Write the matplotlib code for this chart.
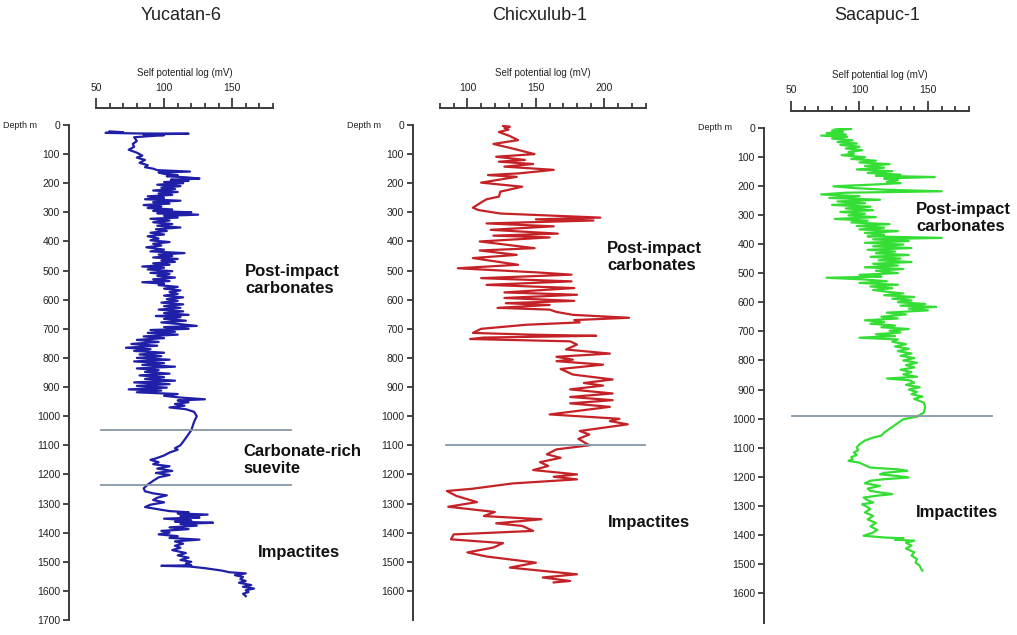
import matplotlib.pyplot as plt
from matplotlib.ticker import MultipleLocator, FixedLocator

# self potential logs, (depth m, mV)
yucatan = [(22, 60), (25, 70), (27, 57), (29, 80), (30, 118), (32, 85), (35, 100), (38, 90), (42, 78),
           (55, 80), (65, 77), (75, 78), (85, 74), (95, 80), (105, 84), (112, 80), (120, 86), (130, 82),
           (138, 88), (145, 86), (150, 92), (155, 95), (160, 119), (163, 96), (168, 100), (172, 110),
           (176, 102), (180, 117), (184, 126), (188, 105), (192, 118), (196, 100), (200, 114), (205, 95),
           (210, 112), (215, 98), (220, 108), (225, 92), (230, 110), (235, 96), (240, 106), (245, 88),
           (250, 100), (255, 86), (260, 112), (265, 92), (270, 104), (275, 85), (280, 98), (285, 88),
           (290, 106), (295, 92), (300, 120), (303, 95), (308, 125), (312, 100), (318, 110), (322, 90),
           (328, 104), (334, 92), (340, 106), (346, 95), (352, 112), (358, 94), (364, 102), (370, 90),
           (376, 100), (382, 88), (390, 96), (396, 90), (402, 104), (408, 92), (414, 98), (420, 87),
           (428, 100), (434, 90), (440, 115), (445, 96), (450, 106), (455, 92), (460, 110), (465, 98),
           (470, 108), (475, 92), (480, 104), (486, 84), (490, 100), (496, 88), (502, 106), (508, 90),
           (512, 104), (518, 95), (524, 108), (530, 92), (536, 104), (540, 84), (545, 100), (550, 96),
           (556, 110), (562, 100), (568, 112), (574, 104), (580, 110), (586, 100), (592, 114), (598, 102),
           (604, 110), (610, 98), (616, 114), (622, 100), (628, 112), (634, 96), (640, 114), (646, 100),
           (652, 118), (656, 94), (660, 112), (666, 100), (672, 116), (678, 98), (684, 112), (690, 124),
           (694, 100), (700, 118), (704, 90), (710, 108), (714, 88), (720, 110), (726, 85), (732, 100),
           (738, 80), (745, 96), (752, 76), (758, 95), (765, 72), (770, 90), (776, 78), (782, 100),
           (788, 82), (794, 98), (800, 80), (806, 104), (812, 78), (818, 100), (824, 84), (830, 108),
           (836, 80), (842, 96), (848, 86), (854, 104), (860, 82), (866, 100), (872, 86), (878, 108),
           (884, 78), (890, 104), (896, 80), (902, 102), (908, 74), (912, 98), (918, 80), (924, 110),
           (930, 100), (936, 112), (942, 130), (946, 110), (952, 118), (958, 108), (964, 115), (970, 104),
           (976, 116), (985, 122), (1000, 124), (1020, 122), (1048, 120), (1075, 116), (1100, 112),
           (1110, 108), (1115, 110), (1125, 104), (1135, 100), (1145, 94), (1150, 90), (1158, 96),
           (1165, 92), (1172, 104), (1180, 95), (1188, 106), (1195, 94), (1202, 104), (1210, 96),
           (1222, 92), (1235, 88), (1248, 85), (1258, 86), (1265, 92), (1272, 102), (1280, 95), (1288, 92),
           (1296, 100), (1304, 90), (1312, 86), (1320, 96), (1326, 104), (1330, 118), (1334, 110),
           (1338, 132), (1343, 112), (1348, 126), (1352, 100), (1358, 120), (1362, 108), (1366, 136),
           (1370, 112), (1376, 124), (1382, 104), (1388, 118), (1394, 98), (1400, 104), (1406, 96),
           (1412, 110), (1418, 104), (1424, 126), (1430, 108), (1438, 114), (1445, 108), (1452, 112),
           (1460, 106), (1470, 116), (1478, 110), (1486, 118), (1494, 112), (1500, 120), (1506, 116),
           (1512, 120), (1514, 98), (1516, 118), (1522, 130), (1530, 142), (1536, 148), (1540, 160),
           (1546, 152), (1552, 158), (1560, 156), (1566, 160), (1572, 155), (1580, 164), (1586, 158),
           (1592, 166), (1598, 160), (1604, 162), (1610, 158), (1618, 160)]

chicxulub = [(3, 126), (6, 131), (10, 127), (16, 130), (24, 123), (38, 131), (52, 137), (65, 119), (82, 134),
             (100, 149), (109, 121), (120, 142), (126, 123), (134, 148), (143, 127), (154, 163), (166, 138),
             (172, 115), (178, 136), (198, 110), (212, 140), (229, 124), (246, 123), (255, 114), (269, 109),
             (284, 104), (292, 108), (304, 124), (318, 197), (324, 150), (328, 192), (338, 114), (348, 163),
             (360, 117), (373, 166), (380, 119), (386, 160), (400, 109), (423, 149), (431, 109), (446, 136),
             (457, 104), (480, 137), (492, 93), (506, 150), (514, 176), (526, 110), (537, 176), (549, 114),
             (560, 178), (575, 127), (583, 180), (594, 127), (604, 178), (612, 128), (618, 160), (628, 122),
             (634, 160), (642, 165), (652, 177), (662, 218), (670, 178), (678, 182), (686, 143), (700, 110),
             (714, 104), (720, 146), (724, 194), (730, 112), (735, 102), (743, 175), (754, 180), (771, 172),
             (785, 204), (796, 165), (806, 177), (811, 165), (823, 199), (838, 168), (857, 177), (874, 206),
             (886, 185), (895, 199), (908, 175), (922, 206), (934, 175), (945, 206), (956, 175), (968, 204),
             (994, 160), (1009, 211), (1017, 204), (1028, 217), (1051, 182), (1063, 189), (1078, 181),
             (1100, 189), (1114, 165), (1131, 158), (1143, 168), (1158, 153), (1171, 159), (1185, 148),
             (1200, 180), (1208, 163), (1217, 180), (1231, 133), (1249, 104), (1257, 85), (1274, 92),
             (1295, 107), (1311, 86), (1329, 120), (1343, 112), (1354, 154), (1368, 121), (1377, 140),
             (1394, 148), (1406, 90), (1423, 88), (1436, 126), (1451, 119), (1468, 100), (1482, 114),
             (1503, 150), (1520, 131), (1543, 180), (1554, 155), (1566, 175), (1571, 163)]

sacapuc = [(0, 82), (5, 94), (10, 80), (15, 88), (19, 76), (24, 90), (28, 72), (32, 91), (38, 80), (44, 95),
           (50, 84), (55, 98), (60, 86), (66, 100), (72, 90), (78, 102), (84, 92), (90, 96), (95, 87),
           (102, 104), (108, 94), (114, 112), (120, 100), (126, 122), (132, 104), (138, 118), (144, 98),
           (150, 124), (156, 106), (162, 130), (166, 112), (170, 155), (175, 118), (180, 128), (186, 120),
           (191, 130), (196, 110), (202, 81), (208, 96), (214, 120), (219, 160), (224, 90), (230, 72),
           (236, 100), (242, 78), (248, 115), (254, 84), (260, 104), (266, 80), (272, 108), (278, 90),
           (284, 110), (290, 86), (296, 104), (302, 92), (308, 112), (314, 82), (320, 106), (326, 94),
           (332, 122), (338, 98), (344, 118), (350, 100), (356, 128), (362, 104), (368, 118), (374, 106),
           (379, 160), (384, 110), (390, 136), (396, 104), (402, 132), (408, 110), (414, 138), (420, 106),
           (426, 126), (432, 112), (438, 136), (444, 108), (450, 130), (456, 114), (462, 138), (468, 110),
           (474, 128), (480, 104), (486, 132), (492, 112), (500, 128), (506, 100), (512, 116), (516, 76),
           (522, 104), (528, 120), (534, 100), (540, 128), (546, 108), (552, 124), (558, 110), (564, 120),
           (570, 132), (576, 118), (582, 140), (588, 124), (594, 138), (600, 128), (606, 148), (612, 130),
           (616, 156), (622, 136), (628, 150), (636, 120), (642, 134), (650, 116), (656, 128), (662, 104),
           (668, 118), (674, 108), (680, 126), (686, 116), (692, 136), (698, 122), (704, 130), (710, 112),
           (716, 126), (722, 100), (728, 128), (736, 124), (744, 134), (752, 126), (760, 136), (768, 128),
           (776, 138), (784, 130), (792, 140), (800, 132), (808, 142), (816, 134), (824, 140), (832, 130),
           (840, 138), (848, 132), (856, 142), (862, 120), (868, 136), (876, 140), (884, 134), (892, 144),
           (900, 136), (908, 142), (916, 138), (924, 146), (932, 140), (945, 147), (960, 148), (979, 147),
           (993, 142), (1002, 132), (1015, 128), (1025, 125), (1035, 122), (1048, 118), (1058, 116),
           (1065, 110), (1075, 104), (1088, 100), (1099, 98), (1108, 99), (1116, 96), (1125, 98), (1132, 94),
           (1139, 95), (1145, 92), (1151, 100), (1160, 104), (1168, 108), (1174, 128), (1179, 135),
           (1186, 118), (1191, 115), (1197, 128), (1202, 136), (1208, 118), (1213, 108), (1222, 104),
           (1231, 115), (1240, 106), (1248, 108), (1254, 116), (1259, 124), (1265, 112), (1271, 103),
           (1280, 106), (1288, 110), (1294, 102), (1299, 104), (1310, 108), (1322, 104), (1334, 110),
           (1346, 106), (1358, 112), (1370, 108), (1382, 113), (1391, 110), (1402, 103), (1408, 118),
           (1411, 132), (1416, 126), (1419, 140), (1426, 134), (1436, 138), (1446, 134), (1459, 140),
           (1470, 138), (1482, 142), (1494, 141), (1505, 144), (1516, 145), (1522, 146)]

wells = ['Yucatan-6', 'Chicxulub-1', 'Sacapuc-1']
x_ranges = [(50, 180), (80, 230), (50, 180)]
x_major = [[50, 100, 150], [100, 150, 200], [50, 100, 150]]
depth_ticks = [list(range(0, 1800, 100)), list(range(0, 1700, 100)), list(range(0, 1700, 100))]
boundaries = [[1048, 1238], [1100], [990]]
unit_labels = [[('Post-impact\ncarbonates', 245, 280), ('Carbonate-rich\nsuevite', 243, 460),
                ('Impactites', 258, 553)],
               [('Post-impact\ncarbonates', 607, 257), ('Impactites', 608, 522)],
               [('Post-impact\ncarbonates', 916, 218), ('Impactites', 916, 512)]]

W, H = 1017, 635
plt.rcParams['font.family'] = ['Liberation Sans', 'DejaVu Sans']

# pixel boxes of the plotting areas: left, right, top (0 m), bottom (1700 m)
boxes = [(96, 273, 125, 620), (440, 645.5, 125, 620), (791, 969, 127.5, 622.5)]
line_ext = [(53.7, 193), (84.4, 229.6), (50.7, 197)]
colors = ['#1f1fa8', '#c42226', '#35de35']
logs = [yucatan, chicxulub, sacapuc]
axis_col = '#3a3a3a'

fig = plt.figure(figsize=(W / 100, H / 100), dpi=100)

for i in range(3):
    l, r, t, b = boxes[i]
    ax = fig.add_axes([l / W, 1 - b / H, (r - l) / W, (b - t) / H])
    depth, mv = zip(*logs[i])
    ax.plot(mv, depth, color=colors[i], lw=1.6)
    x0, x1 = line_ext[i]
    for d in boundaries[i]:
        ax.plot([x0, x1], [d, d], color='#8797a6', lw=1.3, clip_on=False)

    ax.set_xlim(*x_ranges[i])
    ax.set_ylim(1700, 0)
    for s in ['right', 'bottom']:
        ax.spines[s].set_visible(False)
    ax.spines['top'].set_position(('outward', 12.2))
    ax.spines['left'].set_position(('outward', 19.4))
    ax.spines['top'].set_bounds(*x_ranges[i])
    ax.spines['left'].set_bounds(0, 1700)
    for s in ['top', 'left']:
        ax.spines[s].set_color(axis_col)
        ax.spines[s].set_linewidth(1.4)

    ax.xaxis.tick_top()
    ax.xaxis.set_major_locator(FixedLocator(x_major[i]))
    ax.xaxis.set_minor_locator(MultipleLocator(10))
    ax.tick_params(axis='x', which='major', length=7, width=1.3, pad=4, labelsize=7.5, colors=axis_col,
                   labelcolor='#222222')
    ax.tick_params(axis='x', which='minor', length=3.6, width=1.3, colors=axis_col)
    ax.set_xlabel('Self potential log (mV)', fontsize=7, labelpad=5, color='#222222')
    ax.xaxis.set_label_position('top')

    ax.set_yticks(depth_ticks[i])
    ax.tick_params(axis='y', length=4.5, width=1.3, pad=2, labelsize=7.5, colors=axis_col,
                   labelcolor='#222222')

    fig.text((l - 59) / W, 1 - t / H, 'Depth m', fontsize=6.5, ha='right', va='center', color='#222222')
    fig.text(((l + r) / 2 - 3) / W, 1 - 16 / H, wells[i], fontsize=13, ha='center', va='center',
             color='#222222')
    for txt, px, py in unit_labels[i]:
        fig.text(px / W, 1 - py / H, txt, fontsize=12, fontweight='bold',
                 ha='left', va='center', linespacing=1.15, color='#111111')

fig.savefig('out.png', dpi=100)
